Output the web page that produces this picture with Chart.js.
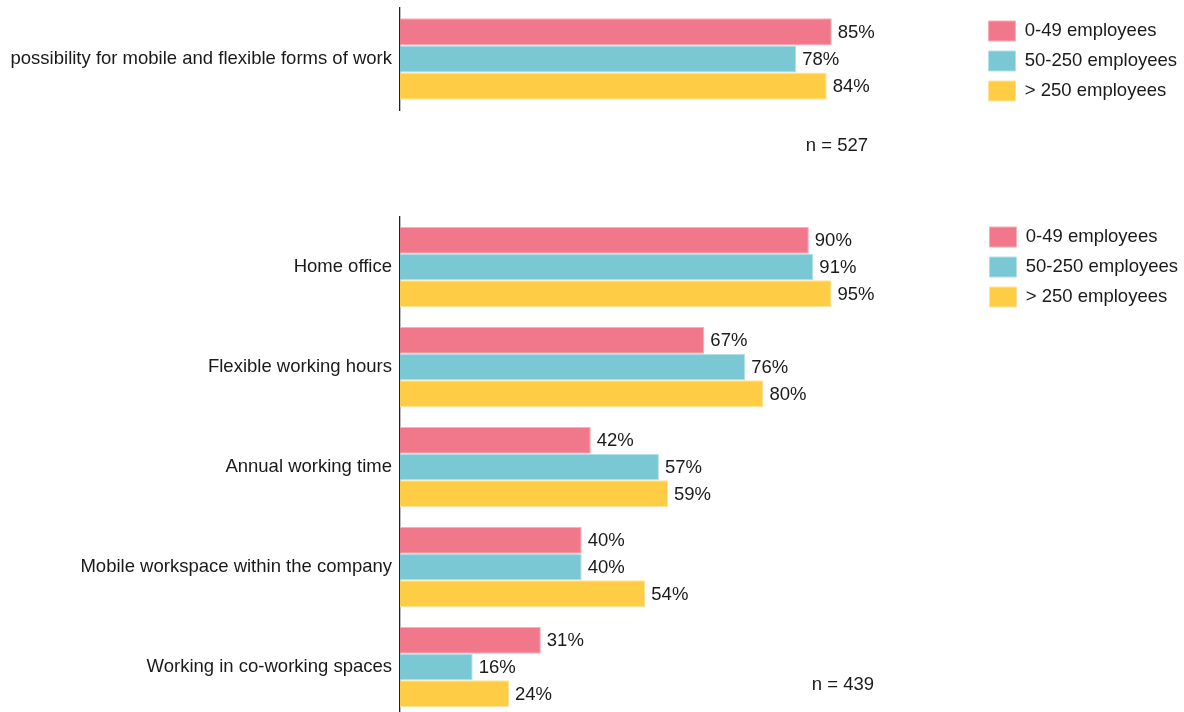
<!DOCTYPE html>
<html lang="en">
<head>
  <meta charset="UTF-8">
  <title>Flexible work by company size</title>
  <script src="https://cdn.jsdelivr.net/npm/chart.js"></script>
  <style>
    html, body { margin: 0; padding: 0; background: #fff; overflow: hidden; }
    .panel { position: absolute; left: 0; width: 1184px; }
    #topPanel { top: 0; height: 180px; }
    #bottomPanel { top: 198px; height: 522px; }
  </style>
</head>
<body>
  <div class="panel" id="topPanel"><canvas id="topChart"></canvas></div>
  <div class="panel" id="bottomPanel"><canvas id="bottomChart"></canvas></div>

  <script>
    // Series labels and colours
    const groups = ['0-49 employees', '50-250 employees', '> 250 employees'];
    const colors = ['#F0788A', '#79C8D4', '#FFCD45'];
    const edgeColors = ['#F7AEB9', '#B3E0E6', '#FFE39A'];

    // Top panel: general possibility
    const topCategories = ['possibility for mobile and flexible forms of work'];
    const topSmall = [85];
    const topMedium = [78];
    const topLarge = [84];
    const topN = 'n = 527';

    // Bottom panel: individual forms
    const bottomCategories = [
      'Home office',
      'Flexible working hours',
      'Annual working time',
      'Mobile workspace within the company',
      'Working in co-working spaces'
    ];
    const bottomSmall = [90, 67, 42, 40, 31];
    const bottomMedium = [91, 76, 57, 40, 16];
    const bottomLarge = [95, 80, 59, 54, 24];
    const bottomN = 'n = 439';

    const FONT = '"Liberation Sans", Arial, sans-serif';
    const FONT_SIZE = 18.5;
    Chart.defaults.font.family = FONT;
    Chart.defaults.font.size = FONT_SIZE;
    Chart.defaults.color = '#1a1a1a';

    // value labels to the right of each bar + sample size note
    const barLabels = {
      id: 'barLabels',
      beforeDraw(chart, args, opts) {
        // nudge the legend a little
        if (chart.legend && opts.legendShift) {
          chart.legend.left += opts.legendShift[0];
          chart.legend.right += opts.legendShift[0];
          chart.legend.top += opts.legendShift[1];
          chart.legend.bottom += opts.legendShift[1];
        }
      },
      afterDatasetsDraw(chart, args, opts) {
        const ctx = chart.ctx;
        ctx.save();
        ctx.font = FONT_SIZE + 'px ' + FONT;
        ctx.fillStyle = '#1a1a1a';
        ctx.textBaseline = 'middle';
        ctx.textAlign = 'left';
        chart.data.datasets.forEach((ds, i) => {
          chart.getDatasetMeta(i).data.forEach((bar, j) => {
            ctx.fillText(ds.data[j] + '%', bar.x + 6, bar.y + 1);
          });
        });
        if (opts.note) {
          ctx.textAlign = 'right';
          ctx.fillText(opts.note, opts.noteX, opts.noteY);
        }
        ctx.restore();
      }
    };

    function makeDatasets(values) {
      return values.map((v, i) => ({
        label: groups[i],
        data: v,
        backgroundColor: colors[i],
        borderColor: edgeColors[i],
        borderWidth: 1,
        barPercentage: 1.0,
        categoryPercentage: 0.8
      }));
    }

    function makeChart(canvasId, categories, values, xMax, padding, note) {
      return new Chart(document.getElementById(canvasId).getContext('2d'), {
        type: 'bar',
        data: { labels: categories, datasets: makeDatasets(values) },
        plugins: [barLabels],
        options: {
          indexAxis: 'y',
          responsive: true,
          maintainAspectRatio: false,
          animation: false,
          layout: { padding: padding },
          scales: {
            x: {
              min: 0,
              max: xMax,
              display: false
            },
            y: {
              grid: { display: false, drawTicks: false },
              border: { display: true, color: '#222', width: 1.3 },
              ticks: { padding: 8, color: '#1a1a1a' },
              afterFit(scale) {
                scale.width = 400;
                scale.paddingTop = 0;
                scale.paddingBottom = 0;
              }
            }
          },
          plugins: {
            legend: {
              position: 'right',
              align: 'start',
              labels: {
                boxWidth: 27,
                boxHeight: 20,
                padding: 10,
                color: '#1a1a1a'
              }
            },
            tooltip: { enabled: false },
            barLabels: note
          }
        }
      });
    }

    makeChart('topChart', topCategories, [topSmall, topMedium, topLarge], 113.3,
      { top: 8, bottom: 70, left: 0, right: 0 },
      { note: topN, noteX: 868, noteY: 146, legendShift: [3, 3] });

    makeChart('bottomChart', bottomCategories, [bottomSmall, bottomMedium, bottomLarge], 126.7,
      { top: 19, bottom: 3, left: 0, right: 0 },
      { note: bottomN, noteX: 874, noteY: 487, legendShift: [4, 0] });
  </script>
</body>
</html>
